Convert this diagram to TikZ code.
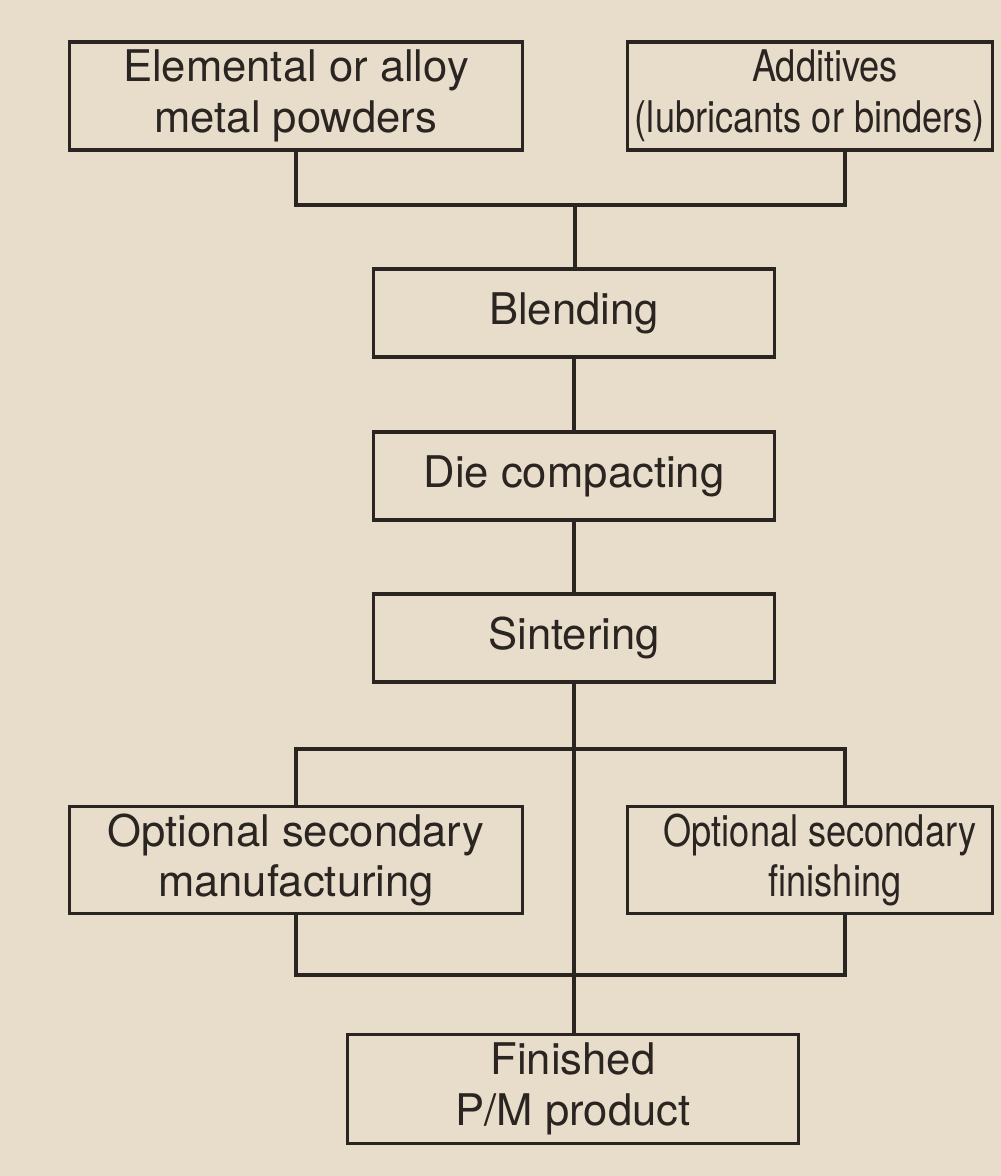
\documentclass[tikz,border=0pt]{standalone}
\usepackage{fontspec}
\setmainfont{TeX Gyre Heros}
\newfontfamily\squeezed[FakeStretch=0.83]{TeX Gyre Heros}
\usepackage{tikz}
\usetikzlibrary{positioning}
\definecolor{paper}{HTML}{E8DCCB}
\definecolor{ink}{HTML}{2A2521}

\begin{document}
\begin{tikzpicture}[
  x=0.01cm, y=-0.01cm,
  box/.style={draw=ink,line width=0.9pt,align=center,inner sep=0pt,
    text=ink,font=\fontsize{12.4}{14.4}\selectfont},
  wide/.style={box,minimum width=4.53cm,minimum height=1.08cm},
  narrow/.style={box,minimum width=3.64cm,minimum height=1.08cm,
    font=\squeezed\fontsize{12.4}{14.4}\selectfont},
  stage/.style={box,minimum width=4cm,minimum height=0.88cm},
  link/.style={draw=ink,line width=0.9pt}
]
\fill[paper] (0,0) rectangle (1001,1176);
\useasboundingbox (0,0) rectangle (1001,1176);

\node[wide] (powders) at (296,96) {Elemental or alloy\\metal powders};
\node[narrow] (additives) at (810,96) {\hspace*{0.3cm}Additives\\(lubricants or binders)};
\node[stage] (blend) at (574,313) {Blending};
\node[stage] (die) at (574,476) {Die compacting};
\node[stage] (sinter) at (574,638) {Sintering};
\node[wide,minimum height=1.07cm] (manuf) at (296,860) {Optional secondary\\manufacturing};
\node[narrow,minimum height=1.07cm] (finish) at (810,860)
  {\hspace*{0.2cm}Optional secondary\\\hspace*{0.5cm}finishing};
\node[box,minimum width=4.5cm,minimum height=1.09cm] (product) at (573,1089)
  {Finished\\P/M product};

\coordinate (topjoin) at (575,205);
\coordinate (addleg) at (845,205);
\coordinate (upperbus) at (845,749);
\coordinate (lowerbus) at (845,975);

\draw[link] (powders.south) |- (addleg) -- (addleg |- additives.south);
\draw[link] (topjoin) -- (topjoin |- blend.north);
\draw[link] (blend) -- (die);
\draw[link] (die) -- (sinter);
\draw[link] (sinter.south) -- (sinter.south |- product.north);
\draw[link] (manuf.north) |- (upperbus) -- (upperbus |- finish.north);
\draw[link] (manuf.south) |- (lowerbus) -- (lowerbus |- finish.south);
\end{tikzpicture}
\end{document}
